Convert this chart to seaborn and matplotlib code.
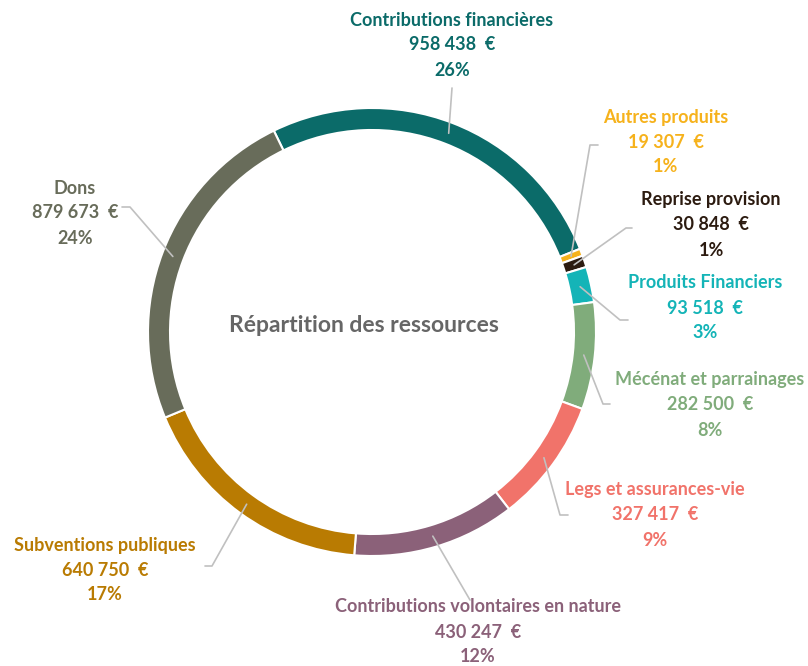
import matplotlib
matplotlib.use("Agg")
import matplotlib.pyplot as plt
import numpy as np
import seaborn as sns

sns.set_theme(style="white")
plt.rcParams["font.family"] = ["Lato", "DejaVu Sans"]

categories = ["Contributions financières", "Autres produits", "Reprise provision",
              "Produits Financiers", "Mécénat et parrainages", "Legs et assurances-vie",
              "Contributions volontaires en nature", "Subventions publiques", "Dons"]
amounts = [958438, 19307, 30848, 93518, 282500, 327417, 430247, 640750, 879673]
amount_labels = ["958 438  €", "19 307  €", "30 848  €", "93 518  €", "282 500  €",
                 "327 417  €", "430 247  €", "640 750  €", "879 673  €"]
percent_labels = ["26%", "1%", "1%", "3%", "8%", "9%", "12%", "17%", "24%"]
colors = sns.color_palette(["#0b6b69", "#f6b21c", "#2c1b10", "#14b4b7", "#80ac7b",
                            "#f1736a", "#8b6179", "#b97b02", "#686c5a"])

# layout (pixels, origin top-left)
W, H = 808, 666
cx, cy, R, ring = 372, 332, 224, 22
# label block centre (x, first line y), elbow point, end of horizontal tick
label_pos = [(452, 20), (666, 117), (711, 200), (705, 283), (710, 380),
             (655, 490), (478, 607), (105, 545), (75, 188)]
elbows = [(452, 88), (590, 145), (626, 228), (620, 320), (603, 404),
          (560, 515), (470, 600), (212, 566), (130, 207)]
ticks = [(452, 88), (598, 145), (632, 228), (628, 320), (610, 404),
         (568, 515), (470, 600), (205, 566), (122, 207)]

fig = plt.figure(figsize=(W / 100, H / 100), dpi=100)
ax = fig.add_axes([0, 0, 1, 1])

start = 116
wedges, _ = ax.pie(amounts, colors=colors, startangle=start, counterclock=False,
                   center=(cx, H - cy), radius=R,
                   wedgeprops=dict(width=ring, edgecolor="white", linewidth=1.5))
ax.set_xlim(0, W)
ax.set_ylim(0, H)
ax.set_aspect("equal")
ax.axis("off")

total = sum(amounts)
cum = np.cumsum([0] + amounts)
for i, (name, col) in enumerate(zip(categories, colors)):
    mid = start - 360 * (cum[i] + amounts[i] / 2) / total
    a = np.deg2rad(mid)
    r0 = R - ring / 2
    x0, y0 = cx + r0 * np.cos(a), (H - cy) + r0 * np.sin(a)
    ex, ey = elbows[i]
    tx, ty = ticks[i]
    ax.plot([x0, ex, tx], [y0, H - ey, H - ty], color="#c0c0c0", lw=1.2, zorder=5)
    lx, ly = label_pos[i]
    for k, t in enumerate([name, amount_labels[i], percent_labels[i]]):
        ax.text(lx, H - (ly + 25 * k), t, color=col, fontsize=13,
                fontweight="bold", ha="center", va="center")

ax.text(cx - 8, H - 326, "Répartition des ressources", color="#666666",
        fontsize=16.5, fontweight="bold", ha="center", va="center")

fig.savefig("out.png", dpi=100, facecolor="white")
